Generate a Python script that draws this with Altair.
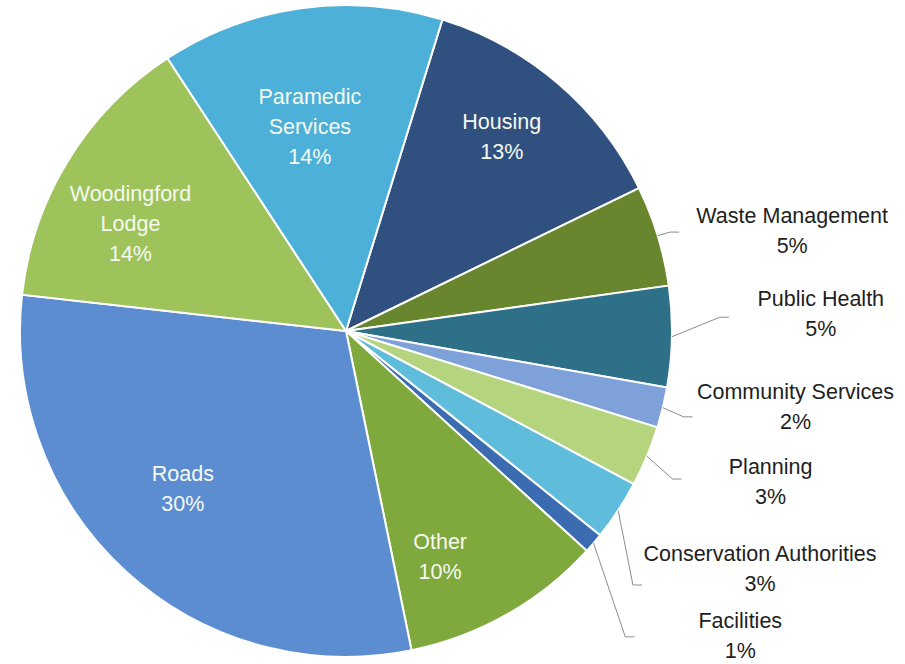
import math

import altair as alt
import pandas as pd

# Budget shares by service area, clockwise from the top
categories = [
    "Housing",
    "Waste Management",
    "Public Health",
    "Community Services",
    "Planning",
    "Conservation Authorities",
    "Facilities",
    "Other",
    "Roads",
    "Woodingford Lodge",
    "Paramedic Services",
]
shares = [13, 5, 5, 2, 3, 3, 1, 10, 30, 14, 14]
display_names = [
    "Housing",
    "Waste Management",
    "Public Health",
    "Community Services",
    "Planning",
    "Conservation Authorities",
    "Facilities",
    "Other",
    "Roads",
    "Woodingford\nLodge",
    "Paramedic\nServices",
]
colors = [
    "#30507F",
    "#67862E",
    "#2E7087",
    "#7DA1D8",
    "#B5D47E",
    "#5FBCDB",
    "#3B6CB1",
    "#7FA83D",
    "#5B8DD0",
    "#9DC35A",
    "#4CB0D8",
]

# Pie geometry (pixels) and rotation of the first slice (degrees)
CX, CY, R = 346, 331, 326
START_DEG = 17.2
TAIL = 9
LINE_H = 30

# Label placement: (distance from centre, angle nudge in degrees)
label_place = {
    "Housing": (248, -1.7),
    "Paramedic Services": (206, -2.1),
    "Woodingford Lodge": (240, -5.5),
    "Roads": (228, 3.3),
    "Other": (246, 7.1),
    "Waste Management": (457, 4.5),
    "Public Health": (475, -2.9),
    "Community Services": (456, -3.9),
    "Planning": (451, -2.9),
    "Conservation Authorities": (478, -3.4),
    "Facilities": (499, -2.8),
}
# Leader-line elbow relative to the outside label's centre
leader_place = {
    "Waste Management": (-122, 0),
    "Public Health": (-101, 2),
    "Community Services": (-112, 9),
    "Planning": (-98, -4),
    "Conservation Authorities": (-127, 15),
    "Facilities": (-115, 0),
}

df = pd.DataFrame(
    {
        "idx": list(range(len(categories))),
        "category": categories,
        "share": shares,
        "name": display_names,
        "lr": [label_place[c][0] for c in categories],
        "nudge": [label_place[c][1] for c in categories],
        "outside": [c in leader_place for c in categories],
        "ldx": [leader_place.get(c, (0, 0))[0] for c in categories],
        "ldy": [leader_place.get(c, (0, 0))[1] for c in categories],
    }
)

start = math.radians(START_DEG)
FONT = "Liberation Sans, Arial, Helvetica, sans-serif"

color_scale = alt.Scale(domain=categories, range=colors)

slices = (
    alt.Chart(df)
    .mark_arc(stroke="#FFFFFF", strokeWidth=2)
    .encode(
        theta=alt.Theta(
            "share:Q", stack=True, scale=alt.Scale(range=[start, start + 2 * math.pi])
        ),
        order=alt.Order("idx:Q"),
        color=alt.Color("category:N", scale=color_scale, legend=None),
        x=alt.value(CX),
        y=alt.value(CY),
        radius=alt.value(R),
    )
)

# Angles and label anchors derived from the cumulative shares
placed = (
    alt.Chart(df)
    .transform_window(cum="sum(share)", sort=[alt.SortField("idx")], frame=[None, 0])
    .transform_calculate(
        mid=f"((datum.cum - datum.share / 2) * 3.6 + {START_DEG}) * PI / 180",
    )
    .transform_calculate(
        la="datum.mid + datum.nudge * PI / 180",
    )
    .transform_calculate(
        lx=f"{CX} + datum.lr * sin(datum.la)",
        ly=f"{CY} - datum.lr * cos(datum.la)",
        label="datum.name + '\\n' + datum.share + '%'",
    )
)

# Multi-line text is anchored at its first line, so lift each block by half its extra lines
labels = (
    placed.transform_calculate(
        ty=f"datum.ly - {LINE_H} / 2 * (length(split(datum.label, '\\n')) - 1)"
    )
    .mark_text(
        lineBreak="\n",
        font=FONT,
        fontSize=21.5,
        lineHeight=LINE_H,
        align="center",
        baseline="middle",
    )
    .encode(
        x=alt.X("lx:Q", scale=None, axis=None),
        y=alt.Y("ty:Q", scale=None, axis=None),
        text="label:N",
        color=alt.condition(
            "datum.outside", alt.value("#1E1E1E"), alt.value("#F6F9F0")
        ),
    )
)

leaders = (
    placed.transform_filter("datum.outside")
    .transform_calculate(pts="[0, 1, 2]")
    .transform_flatten(["pts"])
    .transform_calculate(
        px=(
            f"datum.pts == 0 ? {CX} + {R} * sin(datum.mid) : "
            f"datum.lx + datum.ldx + (datum.pts == 2 ? {TAIL} : 0)"
        ),
        py=f"datum.pts == 0 ? {CY} - {R} * cos(datum.mid) : datum.ly + datum.ldy",
    )
    .mark_line(color="#8C8C8C", strokeWidth=1)
    .encode(
        x=alt.X("px:Q", scale=None, axis=None),
        y=alt.Y("py:Q", scale=None, axis=None),
        detail="category:N",
        order=alt.Order("pts:Q"),
    )
)

chart = (
    alt.layer(slices, leaders, labels)
    .properties(width=905, height=664, autosize="none", padding=0, background="#FFFFFF")
    .configure_view(stroke=None)
)

chart.save("out.html", embed_options={"renderer": "svg", "actions": False})
